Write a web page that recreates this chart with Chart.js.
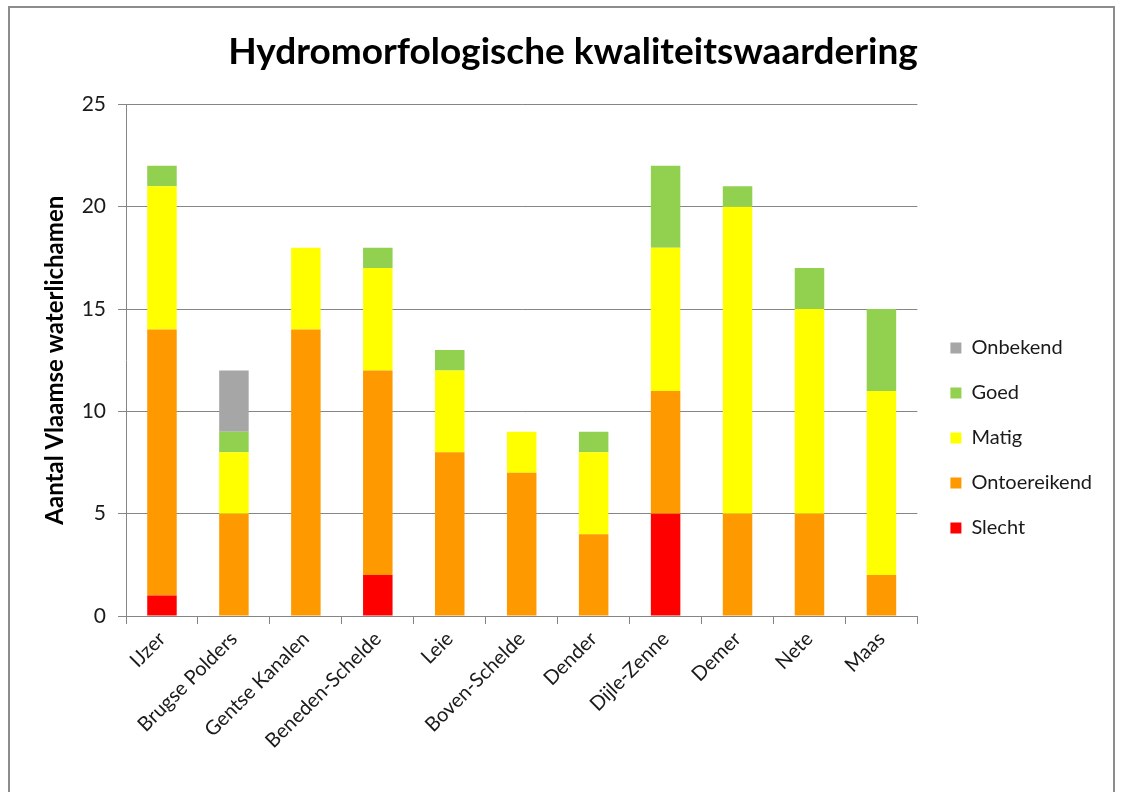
<!DOCTYPE html>
<html>
<head>
<meta charset="utf-8">
<script src="https://cdn.jsdelivr.net/npm/chart.js@4"></script>
<style>
  html, body { margin: 0; padding: 0; background: #fff; }
  #wrap { position: relative; width: 1123px; height: 792px; }
  #frame { position: absolute; left: 8px; top: 6px; width: 1107px; height: 800px; border: 2px solid #8c8c8c; box-sizing: border-box; }
  canvas { position: absolute; left: 0; top: 0; }
</style>
</head>
<body>
<div id="wrap">
  <div id="frame"></div>
  <canvas id="chart" width="1123" height="792"></canvas>
</div>
<script>
const categories = ["IJzer", "Brugse Polders", "Gentse Kanalen", "Beneden-Schelde", "Leie",
  "Boven-Schelde", "Dender", "Dijle-Zenne", "Demer", "Nete", "Maas"];

const slecht       = [1, 0, 0, 2, 0, 0, 0, 5, 0, 0, 0];
const ontoereikend = [13, 5, 14, 10, 8, 7, 4, 6, 5, 5, 2];
const matig        = [7, 3, 4, 5, 4, 2, 4, 7, 15, 10, 9];
const goed         = [1, 1, 0, 1, 1, 0, 1, 4, 1, 2, 4];
const onbekend     = [0, 3, 0, 0, 0, 0, 0, 0, 0, 0, 0];

const yTicks = [0, 5, 10, 15, 20, 25];

const font = "Lato, 'Open Sans', sans-serif";
const textColor = "#1a1a1a";

// nudge legend and title to where the original has them
const nudge = {
  id: "nudge",
  afterLayout(chart) {
    const lg = chart.legend;
    lg.top += 42;
    lg.bottom += 42;
    lg.left += 8;
    lg.right += 8;
    const t = chart.titleBlock;
    t.left += 17;
    t.right += 17;
  }
};

const mk = (label, data, color) => ({
  label, data, backgroundColor: color, borderWidth: 0,
  barPercentage: 0.41, categoryPercentage: 1
});

new Chart(document.getElementById("chart"), {
  type: "bar",
  data: {
    labels: categories,
    datasets: [
      mk("Slecht", slecht, "#FF0000"),
      mk("Ontoereikend", ontoereikend, "#FF9900"),
      mk("Matig", matig, "#FFFF00"),
      mk("Goed", goed, "#92D050"),
      mk("Onbekend", onbekend, "#A6A6A6"),
    ],
  },
  options: {
    responsive: false,
    animation: false,
    layout: { padding: { left: 18, right: 29, top: 10, bottom: 10 } },
    plugins: {
      title: {
        display: true,
        text: "Hydromorfologische kwaliteitswaardering",
        color: "#000",
        font: { family: font, size: 37, weight: "bold" },
        padding: { top: 20, bottom: 30 },
      },
      legend: {
        position: "right",
        reverse: true,
        labels: {
          color: textColor,
          font: { family: font, size: 20 },
          boxWidth: 11,
          boxHeight: 11,
          padding: 25,
        },
      },
      tooltip: { enabled: false },
    },
    scales: {
      x: {
        stacked: true,
        afterFit: (s) => { s.height = 166; },
        grid: { drawOnChartArea: false, color: "#868686", tickLength: 8 },
        border: { color: "#868686" },
        ticks: {
          color: textColor,
          font: { family: font, size: 20 },
          minRotation: 45,
          maxRotation: 45,
          autoSkip: false,
        },
      },
      y: {
        stacked: true,
        min: 0,
        max: 25,
        afterFit: (s) => { s.width = 108; },
        afterBuildTicks: (s) => { s.ticks = yTicks.map((v) => ({ value: v })); },
        grid: { color: "#868686", tickLength: 8 },
        border: { color: "#868686" },
        ticks: {
          color: textColor,
          font: { family: font, size: 21 },
          padding: 12,
        },
        title: {
          display: true,
          text: "Aantal Vlaamse waterlichamen",
          color: "#000",
          font: { family: font, size: 24, weight: "bold" },
          padding: { top: 23, bottom: 10 },
        },
      },
    },
  },
  plugins: [nudge],
});
</script>
</body>
</html>
